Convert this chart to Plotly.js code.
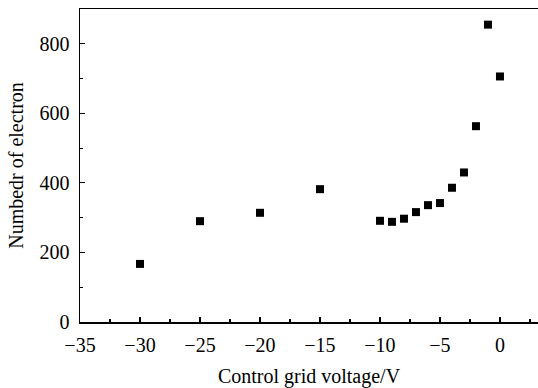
<!DOCTYPE html>
<html>
<head>
<meta charset="utf-8">
<script src="https://cdn.plot.ly/plotly-3.0.1.min.js"></script>
<style>html,body{margin:0;padding:0;background:#fff;}#chart{width:538px;height:388px;}</style>
</head>
<body>
<div id="chart"></div>
<script>
const voltage = [-30, -25, -20, -15, -10, -9, -8, -7, -6, -5, -4, -3, -2, -1, 0];
const electrons = [167, 290, 314, 382, 291, 288, 297, 316, 336, 342, 386, 430, 563, 855, 706];
const xTickVals = [-35, -30, -25, -20, -15, -10, -5, 0];
const yTickVals = [0, 200, 400, 600, 800];

const font = {family: "'Liberation Serif', 'Times New Roman', serif", size: 20, color: '#000'};

Plotly.newPlot('chart', [{
  x: voltage, y: electrons, type: 'scatter', mode: 'markers',
  marker: {symbol: 'square', size: 8, color: '#000'}
}], {
  width: 538, height: 388,
  margin: {l: 80, r: 0, t: 9, b: 66},
  paper_bgcolor: '#fff', plot_bgcolor: '#fff',
  showlegend: false,
  font: font,
  xaxis: {
    range: [-35, 3.17], tickvals: xTickVals, ticks: 'inside', ticklen: 5, tickwidth: 1.2, tickcolor: '#000',
    minor: {ticks: 'inside', dtick: 2.5, tick0: 0, ticklen: 3, tickwidth: 1.2, tickcolor: '#000'},
    showline: true, linecolor: '#000', linewidth: 1.5, mirror: true, showgrid: false, zeroline: false,
    tickfont: font, ticklabelstandoff: 4,
    title: {text: 'Control grid voltage/V', font: font, standoff: 14}
  },
  yaxis: {
    range: [0, 900], tickvals: yTickVals, ticks: 'inside', ticklen: 5, tickwidth: 1.2, tickcolor: '#000',
    minor: {ticks: 'inside', dtick: 100, tick0: 0, ticklen: 3, tickwidth: 1.2, tickcolor: '#000'},
    showline: true, linecolor: '#000', linewidth: 1.5, mirror: false, showgrid: false, zeroline: false,
    tickfont: font, ticklabelstandoff: 5,
    title: {text: 'Numbedr of electron', font: font, standoff: 10}
  }
}, {displayModeBar: false, staticPlot: true});
</script>
</body>
</html>
